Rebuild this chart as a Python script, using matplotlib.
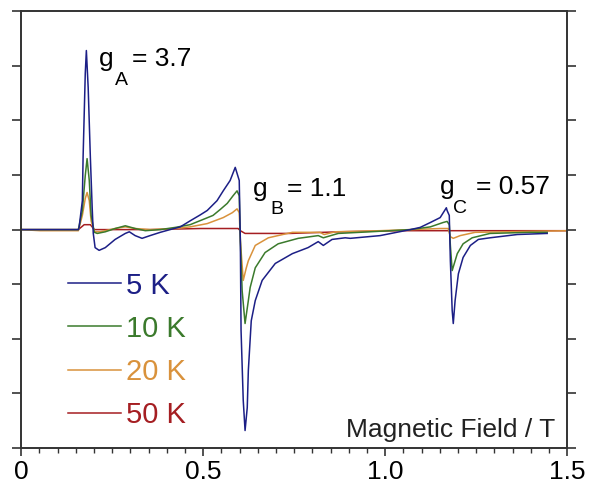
import numpy as np
import matplotlib.pyplot as plt
from matplotlib.ticker import MultipleLocator, NullFormatter

plt.rcParams['font.family'] = ['Liberation Sans', 'DejaVu Sans']

# EPR spectra (field in T, signal in arbitrary units)
field_5k = [0.0, 0.107, 0.157, 0.159, 0.168, 0.170, 0.176, 0.179, 0.184, 0.190, 0.195,
            0.198, 0.203, 0.214, 0.231, 0.258, 0.286, 0.297, 0.313, 0.332, 0.354, 0.382,
            0.409, 0.437, 0.464, 0.492, 0.511, 0.538, 0.555, 0.574, 0.588, 0.593, 0.599,
            0.602, 0.604, 0.610, 0.615, 0.621, 0.624, 0.632, 0.643, 0.662, 0.698, 0.745,
            0.788, 0.816, 0.830, 0.854, 0.890, 0.904, 0.986, 1.069, 1.096, 1.124, 1.151,
            1.168, 1.170, 1.176, 1.179, 1.184, 1.187, 1.192, 1.201, 1.214, 1.234, 1.256,
            1.288, 1.363, 1.445]
signal_5k = [0.0, 0.0, 0.0, 0.04, 0.53, 1.32, 2.86, 3.28, 2.60, 1.32, 0.40,
             -0.07, -0.33, -0.38, -0.33, -0.18, -0.07, -0.04, -0.11, -0.16, -0.11, -0.05,
             0.0, 0.05, 0.16, 0.27, 0.35, 0.53, 0.71, 0.90, 1.14, 1.03, 0.90,
             -0.20, -1.85, -3.13, -3.68, -3.26, -2.58, -1.67, -1.30, -0.93, -0.62, -0.44,
             -0.33, -0.22, -0.29, -0.18, -0.15, -0.16, -0.11, 0.0, 0.04, 0.13, 0.22,
             0.40, 0.35, 0.26, -0.57, -1.48, -1.72, -1.30, -0.81, -0.51, -0.29, -0.18,
             -0.15, -0.09, -0.07]

field_10k = [0.0, 0.157, 0.168, 0.176, 0.181, 0.187, 0.192, 0.201, 0.209, 0.231, 0.258,
             0.286, 0.313, 0.341, 0.382, 0.423, 0.464, 0.505, 0.527, 0.547, 0.566, 0.582,
             0.593, 0.599, 0.602, 0.607, 0.615, 0.624, 0.629, 0.643, 0.670, 0.706, 0.761,
             0.816, 0.830, 0.871, 0.959, 1.069, 1.124, 1.159, 1.170, 1.176, 1.179, 1.184,
             1.198, 1.214, 1.239, 1.288, 1.398, 1.445]
signal_10k = [0.0, 0.0, 0.35, 0.99, 1.30, 0.90, 0.26, -0.05, -0.07, -0.04, 0.02,
              0.07, 0.02, -0.02, 0.0, 0.04, 0.09, 0.20, 0.26, 0.37, 0.48, 0.62,
              0.71, 0.62, -0.20, -1.12, -1.72, -1.30, -1.06, -0.70, -0.42, -0.26, -0.16,
              -0.11, -0.15, -0.07, -0.04, 0.0, 0.05, 0.13, 0.15, 0.09, -0.29, -0.75,
              -0.44, -0.26, -0.15, -0.07, -0.05, -0.05]

field_20k = [0.0, 0.052, 0.157, 0.168, 0.176, 0.181, 0.187, 0.192, 0.201, 0.217, 0.258,
             0.286, 0.313, 0.354, 0.423, 0.464, 0.511, 0.555, 0.580, 0.593, 0.599, 0.602,
             0.610, 0.618, 0.624, 0.643, 0.679, 0.745, 0.821, 0.832, 0.863, 0.986, 1.151,
             1.173, 1.179, 1.187, 1.206, 1.247, 1.5]
signal_20k = [0.0, -0.02, -0.02, 0.26, 0.57, 0.68, 0.53, 0.16, -0.04, -0.04, 0.02,
              0.05, 0.02, 0.0, 0.02, 0.05, 0.11, 0.22, 0.31, 0.38, 0.31, -0.20,
              -0.93, -0.71, -0.57, -0.29, -0.15, -0.05, -0.05, -0.09, -0.04, -0.02, 0.02,
              0.02, -0.13, -0.16, -0.11, -0.05, -0.02]

field_50k = [0.0, 0.157, 0.173, 0.190, 0.201, 0.354, 0.492, 0.596, 0.602, 0.615, 0.739,
             0.876, 1.041, 1.5]
signal_50k = [0.0, 0.0, 0.09, 0.09, 0.0, 0.0, 0.02, 0.02, -0.02, -0.07, -0.07,
              -0.04, -0.02, -0.02]

labels = ['5 K', '10 K', '20 K', '50 K']
colors = ['#1c1f86', '#3b7a2c', '#d9923c', '#a51e22']

fig = plt.figure(figsize=(5.89, 4.88), dpi=100)
ax = fig.add_axes([0.036, 0.082, 0.927, 0.895])

series = [(field_5k, signal_5k), (field_10k, signal_10k),
          (field_20k, signal_20k), (field_50k, signal_50k)]
# draw warmest first so the 5 K trace sits on top
for (fx, sy), lab, col in reversed(list(zip(series, labels, colors))):
    ax.plot(fx, sy, color=col, lw=1.1, label=lab)

ax.set_xlim(0, 1.5)
ax.set_ylim(-4, 4)
ax.xaxis.set_major_locator(MultipleLocator(0.5))
ax.xaxis.set_minor_locator(MultipleLocator(0.05))
ax.xaxis.set_major_formatter(plt.FuncFormatter(lambda v, p: '0' if v == 0 else f'{v:.1f}'))
ax.yaxis.set_major_locator(MultipleLocator(1))
ax.yaxis.set_major_formatter(NullFormatter())
ax.tick_params(axis='x', which='major', direction='out', length=6, width=1.2,
               labelsize=19, colors='#333333', labelcolor='black', pad=3)
ax.tick_params(axis='x', which='minor', direction='out', length=3.5, width=1.0, colors='#333333')
ax.tick_params(axis='y', which='major', direction='out', length=6.5, width=1.2,
               left=True, right=True, colors='#333333')
for s in ax.spines.values():
    s.set_color('#333333')
    s.set_linewidth(1.4)

# legend with coloured labels
handles, labs = ax.get_legend_handles_labels()
leg = ax.legend(handles[::-1], labs[::-1], loc='upper left', bbox_to_anchor=(0.086, 0.404),
                frameon=False, fontsize=21, handlelength=1.8, handletextpad=0.2,
                labelspacing=0.52, borderpad=0, borderaxespad=0, labelcolor='linecolor')

# g-value annotations
fs = 19
fs_sub = 14
ax.text(0.214, 3.0, 'g', fontsize=fs, va='baseline')
ax.text(0.258, 2.64, 'A', fontsize=fs_sub, va='baseline')
ax.text(0.305, 3.0, '= 3.7', fontsize=fs, va='baseline')
ax.text(0.637, 0.62, 'g', fontsize=fs, va='baseline')
ax.text(0.684, 0.29, 'B', fontsize=fs_sub, va='baseline')
ax.text(0.731, 0.62, '= 1.1', fontsize=fs, va='baseline')
ax.text(1.151, 0.66, 'g', fontsize=fs, va='baseline')
ax.text(1.187, 0.31, 'C', fontsize=fs_sub, va='baseline')
ax.text(1.250, 0.66, '= 0.57', fontsize=fs, va='baseline')

ax.text(0.978, 0.025, 'Magnetic Field / T', transform=ax.transAxes,
        fontsize=19, ha='right', va='baseline', color='#222222')

fig.savefig('out.png', dpi=100)
